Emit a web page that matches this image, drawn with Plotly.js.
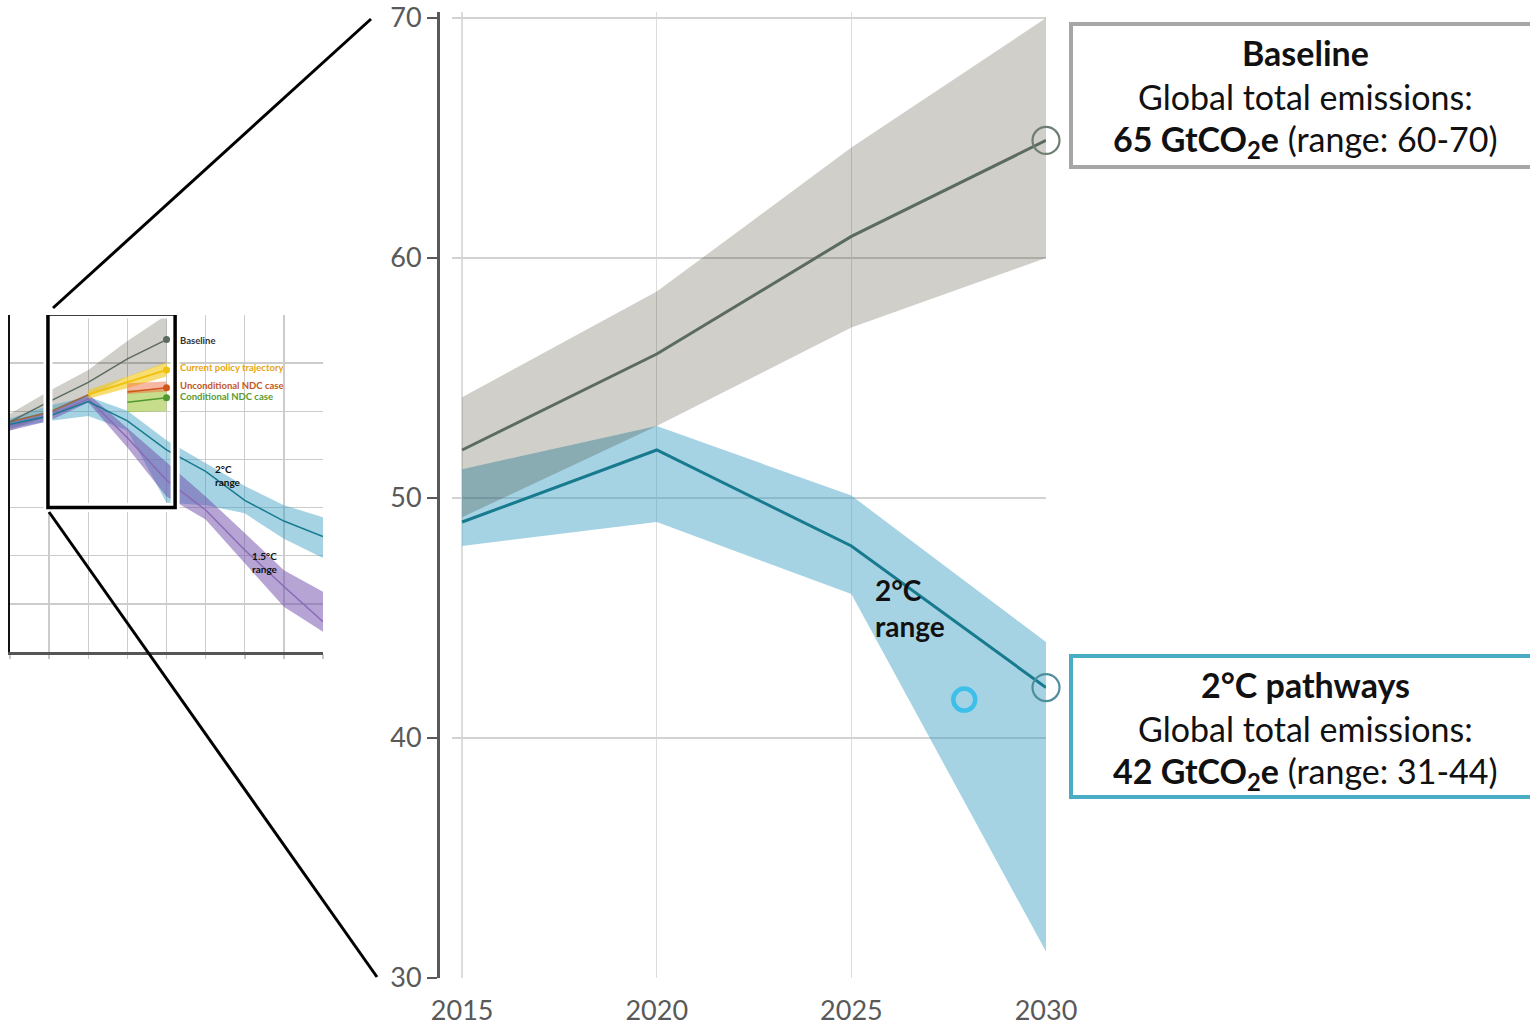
<!DOCTYPE html>
<html><head><meta charset="utf-8">
<script src="https://cdn.plot.ly/plotly-3.0.1.min.js"></script>
<style>
html,body{margin:0;padding:0;background:#fff;}
#chart{width:1530px;height:1025px;}
</style></head><body><div id="chart"></div>
<script>
// ---------- main chart data ----------
const years = [2015, 2020, 2025, 2030];
const baselineMedian = [52, 56, 60.9, 64.9];
const baselineLow = [49.2, 53, 57.1, 60];
const baselineHigh = [54.2, 58.6, 64.6, 70];
const twoCMedian = [49, 52, 48, 42.1];
const twoCLow = [48, 49, 46, 31.1];
const twoCHigh = [51.2, 53, 50.1, 44];
const endYear = [2030];
const baselineEnd = [64.9];
const twoCEnd = [42.1];
const highlightYear = [2027.9];
const highlightValue = [41.6];
const yTicks = [30, 40, 50, 60, 70];
const xTicks = [2015, 2020, 2025, 2030];
const baselineBoxLines = ["<b>Baseline</b>", "Global total emissions:", "<b>65 GtCO<sub>2</sub>e</b> (range: 60-70)"];
const twoCBoxLines = ["<b>2°C pathways</b>", "Global total emissions:", "<b>42 GtCO<sub>2</sub>e</b> (range: 31-44)"];
const twoCLabel = "<b>2°C<br>range</b>";

// ---------- inset chart data ----------
const insetYears = [2010, 2015, 2020, 2025, 2030, 2035, 2040, 2045, 2050];
const insetBaseYears = [2010, 2015, 2020, 2025, 2030];
const insetBaseMedian = [47.8, 52, 56, 60.9, 64.9];
const insetBaseLow = [46, 49.2, 53, 57.1, 60];
const insetBaseHigh = [49.5, 54.2, 58.6, 64.6, 70];
const inset2CMedian = [47.3, 49, 52, 48, 42, 37.5, 31.5, 27.2, 24];
const inset2CLow = [46.5, 48, 49, 46, 31, 30.5, 28.8, 23.5, 19.5];
const inset2CHigh = [48.5, 51.2, 53, 50.1, 44, 39.3, 34.5, 30.5, 28];
const inset15Median = [47, 49, 52.6, 44.5, 35.7, 29.5, 21.2, 13.6, 6.3];
const inset15Low = [46, 48, 51.8, 42.5, 32.3, 27.5, 18.5, 9.4, 4.2];
const inset15High = [48, 50, 53.6, 46.5, 39.2, 32.3, 24.7, 17, 12.5];
const insetHistYears = [2010, 2015, 2020];
const insetHistValues = [47.8, 49.8, 53.4];
const insetPolicyYears = [2020, 2025, 2030];
const insetPolicyMedian = [53.5, 56, 58.6];
const insetPolicyLow = [52.6, 54.8, 57.2];
const insetPolicyHigh = [54.4, 57.2, 60.2];
const insetNdcYears = [2025, 2030];
const insetUncondMedian = [54, 54.9];
const insetUncondLow = [53.6, 54.1];
const insetUncondHigh = [55.8, 56.2];
const insetCondMedian = [51.9, 52.8];
const insetCondLow = [49.8, 50];
const insetCondHigh = [54.4, 54.5];
const insetEndYear = [2030];
const insetLabels = ["<b>Baseline</b>", "<b>Current policy trajectory</b>", "<b>Unconditional NDC case</b>", "<b>Conditional NDC case</b>"];
const insetLabelValues = [64.8, 59, 55.3, 53];
const inset2CLabel = "<b>2°C<br>range</b>";
const inset15Label = "<b>1.5°C<br>range</b>";

// ---------- helpers ----------
const W = 1530, H = 1025;
const px = v => v / W;
const py = v => 1 - v / H;

function band(x, lo, hi, color, xa, ya) {
  return {x: x.concat(x.slice().reverse()), y: hi.concat(lo.slice().reverse()),
    type: 'scatter', mode: 'lines', fill: 'toself', fillcolor: color,
    line: {width: 0, color: 'rgba(0,0,0,0)'}, hoverinfo: 'skip', showlegend: false, xaxis: xa, yaxis: ya};
}
function line(x, y, color, width, xa, ya) {
  return {x: x, y: y, type: 'scatter', mode: 'lines', line: {color: color, width: width},
    hoverinfo: 'skip', showlegend: false, xaxis: xa, yaxis: ya};
}
function dot(x, y, color, size, xa, ya) {
  return {x: x, y: y, type: 'scatter', mode: 'markers', marker: {color: color, size: size},
    hoverinfo: 'skip', showlegend: false, xaxis: xa, yaxis: ya, cliponaxis: false};
}

const C = {
  gray: 'rgba(31,26,0,0.21)', grayLine: '#5b6b5f',
  blue: 'rgba(55,157,195,0.45)', blueLine: '#177a8e',
  purple: 'rgba(109,73,169,0.5)', purpleLine: '#8a6bb6',
  yellow: 'rgba(243,200,17,0.6)', yellowLine: '#f1c10f',
  orange: 'rgba(237,113,69,0.5)', orangeLine: '#d1561d',
  green: 'rgba(141,187,25,0.5)', greenLine: '#4f9a2f',
  brown: '#9c6a3a'
};

const traces = [
  // inset
  band(insetBaseYears, insetBaseLow, insetBaseHigh, C.gray, 'x2', 'y2'),
  band(insetYears, inset2CLow, inset2CHigh, C.blue, 'x2', 'y2'),
  band(insetYears, inset15Low, inset15High, C.purple, 'x2', 'y2'),
  band(insetPolicyYears, insetPolicyLow, insetPolicyHigh, C.yellow, 'x2', 'y2'),
  band(insetNdcYears, insetCondLow, insetCondHigh, C.green, 'x2', 'y2'),
  band(insetNdcYears, insetUncondLow, insetUncondHigh, C.orange, 'x2', 'y2'),
  line(insetHistYears, insetHistValues, C.brown, 1.5, 'x2', 'y2'),
  line(insetYears, inset15Median, C.purpleLine, 1.5, 'x2', 'y2'),
  line(insetYears, inset2CMedian, C.blueLine, 1.5, 'x2', 'y2'),
  line(insetBaseYears, insetBaseMedian, C.grayLine, 1.5, 'x2', 'y2'),
  line(insetPolicyYears, insetPolicyMedian, C.yellowLine, 2, 'x2', 'y2'),
  line(insetNdcYears, insetUncondMedian, C.orangeLine, 1.5, 'x2', 'y2'),
  line(insetNdcYears, insetCondMedian, C.greenLine, 1.5, 'x2', 'y2'),
  dot(insetEndYear, [insetBaseMedian[insetBaseMedian.length - 1]], C.grayLine, 7, 'x2', 'y2'),
  dot(insetEndYear, [insetPolicyMedian[insetPolicyMedian.length - 1]], C.yellowLine, 7, 'x2', 'y2'),
  dot(insetEndYear, [insetUncondMedian[insetUncondMedian.length - 1]], C.orangeLine, 7, 'x2', 'y2'),
  dot(insetEndYear, [insetCondMedian[insetCondMedian.length - 1]], C.greenLine, 7, 'x2', 'y2'),
  // main
  band(years, twoCLow, twoCHigh, C.blue, 'x', 'y'),
  band(years, baselineLow, baselineHigh, C.gray, 'x', 'y'),
  line(years, baselineMedian, C.grayLine, 3, 'x', 'y'),
  line(years, twoCMedian, C.blueLine, 3, 'x', 'y'),
  {x: endYear, y: baselineEnd, type: 'scatter', mode: 'markers', cliponaxis: false, hoverinfo: 'skip', showlegend: false,
   marker: {symbol: 'circle-open', size: 27, color: '#6f7e72', line: {width: 2.2, color: '#6f7e72'}}},
  {x: endYear, y: twoCEnd, type: 'scatter', mode: 'markers', cliponaxis: false, hoverinfo: 'skip', showlegend: false,
   marker: {symbol: 'circle-open', size: 27, color: '#4f8f9d', line: {width: 2.2, color: '#4f8f9d'}}},
  {x: highlightYear, y: highlightValue, type: 'scatter', mode: 'markers', cliponaxis: false, hoverinfo: 'skip', showlegend: false,
   marker: {symbol: 'circle-open', size: 22, color: '#3dbfea', line: {width: 4.5, color: '#3dbfea'}}}
];

const tickFont = {family: 'Lato, sans-serif', size: 27, color: '#595959'};
const textFont = 'Lato, sans-serif';

const annotations = [];
const boxLineY = [52, 97, 141];
baselineBoxLines.forEach((t, i) => annotations.push({xref: 'paper', yref: 'paper', x: px(1305), y: py(boxLineY[i]),
  xanchor: 'center', yanchor: 'middle', text: t, showarrow: false, font: {family: textFont, size: 34, color: '#111'}}));
const box2LineY = [684, 728, 773];
twoCBoxLines.forEach((t, i) => annotations.push({xref: 'paper', yref: 'paper', x: px(1305), y: py(box2LineY[i]),
  xanchor: 'center', yanchor: 'middle', text: t, showarrow: false, font: {family: textFont, size: 34, color: '#111'}}));
annotations.push({xref: 'x', yref: 'y', x: 2025.55, y: 45.42, xanchor: 'left', yanchor: 'middle', align: 'left',
  text: twoCLabel, showarrow: false, font: {family: textFont, size: 28, color: '#111'}});
const insetColors = ['#333333', '#e5a50f', '#c4561e', '#5a9a32'];
insetLabels.forEach((t, i) => annotations.push({xref: 'x2', yref: 'y2', x: 2031.5, y: insetLabelValues[i],
  xanchor: 'left', yanchor: 'middle', text: t, showarrow: false, font: {family: textFont, size: 9.5, color: insetColors[i]}}));
annotations.push({xref: 'x2', yref: 'y2', x: 2035.9, y: 36.75, xanchor: 'left', yanchor: 'middle', align: 'left',
  text: inset2CLabel, showarrow: false, font: {family: textFont, size: 10, color: '#111'}});
annotations.push({xref: 'x2', yref: 'y2', x: 2042.6, y: 18.55, xanchor: 'center', yanchor: 'middle', align: 'center',
  text: inset15Label, showarrow: false, font: {family: textFont, size: 10, color: '#111'}});

const shapes = [
  {type: 'rect', xref: 'paper', yref: 'paper', x0: px(1071), x1: px(1545), y0: py(167), y1: py(24),
   line: {color: '#a6a6a6', width: 4}, fillcolor: 'rgba(0,0,0,0)', layer: 'above'},
  {type: 'rect', xref: 'paper', yref: 'paper', x0: px(1071), x1: px(1545), y0: py(797), y1: py(656),
   line: {color: '#4aadc6', width: 4}, fillcolor: 'rgba(0,0,0,0)', layer: 'above'},
  {type: 'rect', xref: 'x2', yref: 'y2', x0: 2014.85, x1: 2031.1, y0: 30, y1: 70.2,
   line: {color: '#ffffff', width: 9}, fillcolor: 'rgba(0,0,0,0)', layer: 'above'},
  {type: 'rect', xref: 'x2', yref: 'y2', x0: 2014.85, x1: 2031.1, y0: 30, y1: 70.2,
   line: {color: '#000000', width: 3.5}, fillcolor: 'rgba(0,0,0,0)', layer: 'above'},
  {type: 'line', xref: 'paper', yref: 'paper', x0: px(53), y0: py(308), x1: px(371), y1: py(19),
   line: {color: '#000', width: 3}},
  {type: 'line', xref: 'paper', yref: 'paper', x0: px(49), y0: py(512), x1: px(377), y1: py(977),
   line: {color: '#000', width: 3}}
];

const layout = {
  width: W, height: H, margin: {l: 0, r: 0, t: 0, b: 0},
  paper_bgcolor: '#fff', plot_bgcolor: 'rgba(0,0,0,0)', showlegend: false, hovermode: false,
  xaxis: {domain: [px(452), px(1046)], range: [2014.74, 2030], anchor: 'y',
    tickvals: xTicks, ticktext: xTicks.map(String), tickfont: tickFont, ticks: '', ticklabelstandoff: 14,
    ticklabeloverflow: 'allow',
    showgrid: true, gridcolor: '#dcdcdc', gridwidth: 1.3, zeroline: false, showline: false, fixedrange: true},
  yaxis: {domain: [py(978), py(12)], range: [30, 70.25], anchor: 'free', position: px(438),
    tickvals: yTicks, ticktext: yTicks.map(String), tickfont: tickFont, ticks: 'outside', ticklen: 10,
    ticklabeloverflow: 'allow',
    tickwidth: 2, tickcolor: '#595959', showline: true, linecolor: '#595959', linewidth: 2.5,
    showgrid: true, gridcolor: '#d2d2d2', gridwidth: 1.5, zeroline: false, fixedrange: true},
  xaxis2: {domain: [px(10), px(323)], range: [2010, 2050], anchor: 'y2', dtick: 5, tick0: 2010,
    showticklabels: false, ticks: 'outside', ticklen: 4, tickcolor: '#c8c8c8', tickwidth: 1.5,
    showgrid: true, gridcolor: '#cccccc', gridwidth: 1.3, zeroline: false,
    showline: true, linecolor: '#555', linewidth: 2.5, fixedrange: true},
  yaxis2: {domain: [py(652), py(315)], range: [0, 70], anchor: 'x2', dtick: 10,
    showticklabels: false, ticks: '', showgrid: true, gridcolor: '#cccccc', gridwidth: 1.3, zeroline: false,
    showline: true, linecolor: '#111', linewidth: 2, fixedrange: true},
  annotations: annotations,
  shapes: shapes
};

Plotly.newPlot('chart', traces, layout, {displayModeBar: false, staticPlot: true});
</script></body></html>
